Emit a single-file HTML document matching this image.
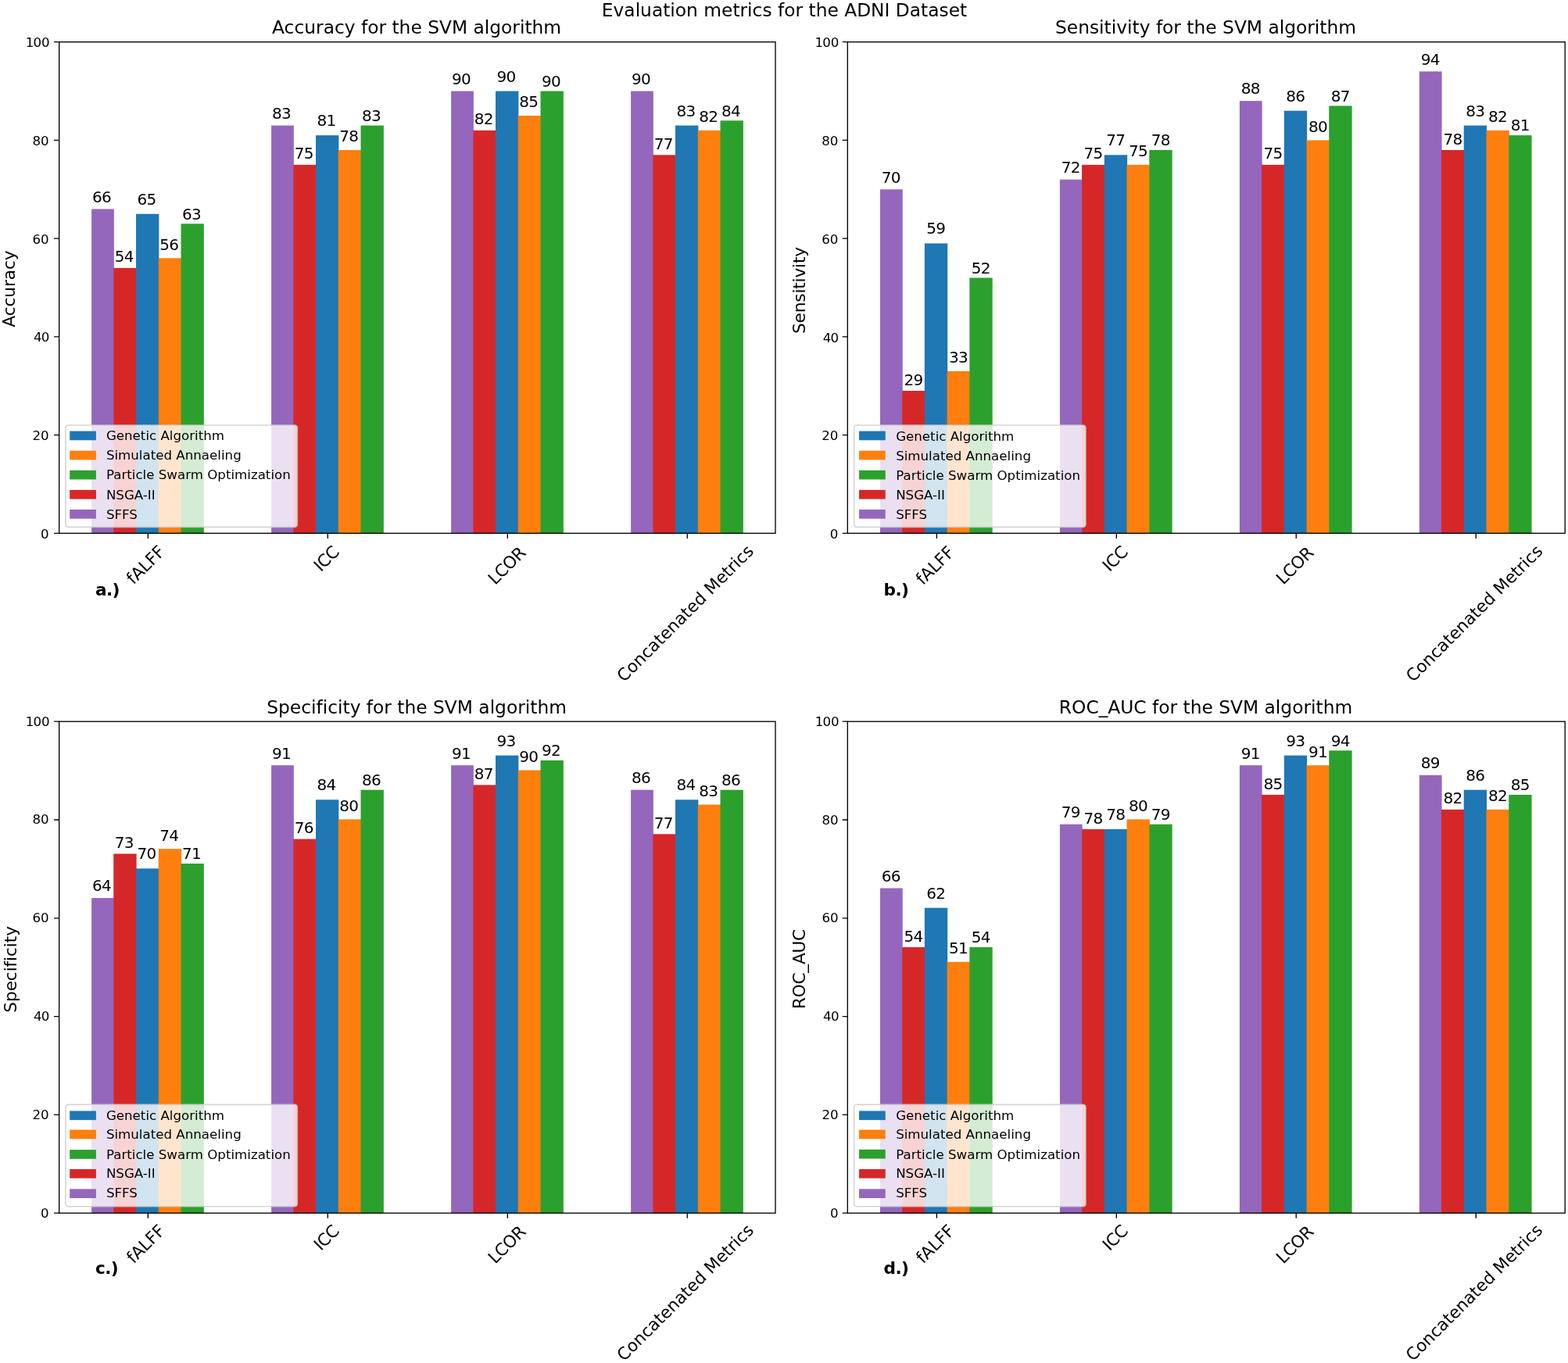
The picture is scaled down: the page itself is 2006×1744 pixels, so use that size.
<!DOCTYPE html>
<html lang="en"><head><meta charset="utf-8"><title>Evaluation metrics for the ADNI Dataset</title>
<style>
html,body{margin:0;padding:0;background:#fff}
body{width:2006px;height:1744px;overflow:hidden}
svg{display:block}
text{font-family:'DejaVu Sans','Liberation Sans',sans-serif;fill:#000;font-variant-ligatures:none}
.tk{font-size:16.67px}
.ti{font-size:23.33px}
.yl{font-size:21.67px}
.xt{font-size:21.67px}
.bl{font-size:20px;letter-spacing:-0.72px}
.lg{font-size:16.67px}
.tg{font-size:21.67px;font-weight:bold;letter-spacing:-0.65px}
</style></head><body>
<svg width="2006" height="1744" viewBox="0 0 2006 1744" role="img" aria-label="Evaluation metrics for the ADNI Dataset">
<rect width="2006" height="1744" fill="#fff"/>
<text class="ti" style="font-size:23.33px" x="1003.5" y="20.7" text-anchor="middle">Evaluation metrics for the ADNI Dataset</text>
<g>
<rect x="117.12" y="267.44" width="28.75" height="414.91" fill="#9467bd"/>
<rect x="145.28" y="342.88" width="29.35" height="339.47" fill="#d62728"/>
<rect x="174.03" y="273.73" width="29.35" height="408.62" fill="#1f77b4"/>
<rect x="202.78" y="330.31" width="29.35" height="352.04" fill="#ff7f0e"/>
<rect x="231.53" y="286.3" width="29.35" height="396.05" fill="#2ca02c"/>
<rect x="347.12" y="160.57" width="28.75" height="521.78" fill="#9467bd"/>
<rect x="375.27" y="210.86" width="29.35" height="471.49" fill="#d62728"/>
<rect x="404.02" y="173.14" width="29.35" height="509.21" fill="#1f77b4"/>
<rect x="432.77" y="192" width="29.35" height="490.35" fill="#ff7f0e"/>
<rect x="461.52" y="160.57" width="29.35" height="521.78" fill="#2ca02c"/>
<rect x="577.12" y="116.57" width="28.75" height="565.78" fill="#9467bd"/>
<rect x="605.27" y="166.86" width="29.35" height="515.49" fill="#d62728"/>
<rect x="634.02" y="116.57" width="29.35" height="565.78" fill="#1f77b4"/>
<rect x="662.77" y="148" width="29.35" height="534.35" fill="#ff7f0e"/>
<rect x="691.52" y="116.57" width="29.35" height="565.78" fill="#2ca02c"/>
<rect x="807.12" y="116.57" width="28.75" height="565.78" fill="#9467bd"/>
<rect x="835.27" y="198.29" width="29.35" height="484.06" fill="#d62728"/>
<rect x="864.02" y="160.57" width="29.35" height="521.78" fill="#1f77b4"/>
<rect x="892.77" y="166.86" width="29.35" height="515.49" fill="#ff7f0e"/>
<rect x="921.52" y="154.28" width="29.35" height="528.07" fill="#2ca02c"/>
<text class="bl" x="130" y="258.64" text-anchor="middle">66</text>
<text class="bl" x="158.75" y="335.43" text-anchor="middle">54</text>
<text class="bl" x="187.5" y="261.68" text-anchor="middle">65</text>
<text class="bl" x="216.25" y="319.71" text-anchor="middle">56</text>
<text class="bl" x="245" y="280.6" text-anchor="middle">63</text>
<text class="bl" x="360" y="151.77" text-anchor="middle">83</text>
<text class="bl" x="388.75" y="203.41" text-anchor="middle">75</text>
<text class="bl" x="417.5" y="161.09" text-anchor="middle">81</text>
<text class="bl" x="446.25" y="181.4" text-anchor="middle">78</text>
<text class="bl" x="475" y="154.87" text-anchor="middle">83</text>
<text class="bl" x="590" y="107.77" text-anchor="middle">90</text>
<text class="bl" x="618.75" y="159.41" text-anchor="middle">82</text>
<text class="bl" x="647.5" y="104.52" text-anchor="middle">90</text>
<text class="bl" x="676.25" y="137.4" text-anchor="middle">85</text>
<text class="bl" x="705" y="110.87" text-anchor="middle">90</text>
<text class="bl" x="820" y="107.77" text-anchor="middle">90</text>
<text class="bl" x="848.75" y="190.84" text-anchor="middle">77</text>
<text class="bl" x="877.5" y="148.52" text-anchor="middle">83</text>
<text class="bl" x="906.25" y="156.26" text-anchor="middle">82</text>
<text class="bl" x="935" y="148.58" text-anchor="middle">84</text>
<rect x="84" y="544" width="296.3" height="130.4" rx="3.33" fill="#fff" fill-opacity="0.8" stroke="#ccc" stroke-opacity="0.8" stroke-width="1.67"/>
<rect x="89.2" y="551.6" width="33.7" height="11.67" fill="#1f77b4"/>
<text class="lg" x="135.9" y="563.26">Genetic Algorithm</text>
<rect x="89.2" y="576.7" width="33.7" height="11.67" fill="#ff7f0e"/>
<text class="lg" x="135.9" y="588.36">Simulated Annaeling</text>
<rect x="89.2" y="601.8" width="33.7" height="11.67" fill="#2ca02c"/>
<text class="lg" x="135.9" y="613.46">Particle Swarm Optimization</text>
<rect x="89.2" y="626.9" width="33.7" height="11.67" fill="#d62728"/>
<text class="lg" x="135.9" y="638.56">NSGA-II</text>
<rect x="89.2" y="652" width="33.7" height="11.67" fill="#9467bd"/>
<text class="lg" x="135.9" y="663.66">SFFS</text>
<rect x="75.65" y="53.7" width="916.35" height="628.65" fill="none" stroke="#000" stroke-width="1.33"/>
<text class="tk" x="62.68" y="688.8" text-anchor="end">0</text>
<text class="tk" x="62.68" y="563.07" text-anchor="end">20</text>
<text class="tk" x="62.68" y="437.34" text-anchor="end" dx="0.8 -0.8">40</text>
<text class="tk" x="62.68" y="311.61" text-anchor="end">60</text>
<text class="tk" x="62.68" y="185.88" text-anchor="end">80</text>
<text class="tk" x="62.68" y="60.15" text-anchor="end" dx="0.95 -0.95">100</text>
<path d="M75.65 682.35h-6.6M75.65 556.62h-6.6M75.65 430.89h-6.6M75.65 305.16h-6.6M75.65 179.43h-6.6M75.65 53.7h-6.6M189.3 682.35v6.6M419.3 682.35v6.6M649.3 682.35v6.6M879.3 682.35v6.6" fill="none" stroke="#000" stroke-width="1.33"/>
<text class="xt" transform="translate(170.87 748.8) rotate(-45)" style="letter-spacing:-0.16px">fALFF</text>
<text class="xt" transform="translate(410.43 732.38) rotate(-45)" style="letter-spacing:-0.7px">ICC</text>
<text class="xt" transform="translate(633.52 749.2) rotate(-45)" style="letter-spacing:-0.63px">LCOR</text>
<text class="xt" transform="translate(798.26 873.73) rotate(-45)" style="letter-spacing:-0.04px">Concatenated Metrics</text>
<text class="ti" x="533.08" y="43.2" text-anchor="middle">Accuracy for the SVM algorithm</text>
<text class="yl" transform="translate(19 369.63) rotate(-90)" text-anchor="middle" style="letter-spacing:-0.1px">Accuracy</text>
<text class="tg" x="122" y="761.95">a.)</text>
</g>
<g>
<rect x="1125.99" y="242.3" width="28.74" height="440.05" fill="#9467bd"/>
<rect x="1154.13" y="500.04" width="29.34" height="182.31" fill="#d62728"/>
<rect x="1182.88" y="311.45" width="29.34" height="370.9" fill="#1f77b4"/>
<rect x="1211.62" y="474.9" width="29.34" height="207.45" fill="#ff7f0e"/>
<rect x="1240.37" y="355.45" width="29.34" height="326.9" fill="#2ca02c"/>
<rect x="1355.94" y="229.72" width="28.74" height="452.63" fill="#9467bd"/>
<rect x="1384.08" y="210.86" width="29.34" height="471.49" fill="#d62728"/>
<rect x="1412.83" y="198.29" width="29.34" height="484.06" fill="#1f77b4"/>
<rect x="1441.57" y="210.86" width="29.34" height="471.49" fill="#ff7f0e"/>
<rect x="1470.32" y="192" width="29.34" height="490.35" fill="#2ca02c"/>
<rect x="1585.89" y="129.14" width="28.74" height="553.21" fill="#9467bd"/>
<rect x="1614.03" y="210.86" width="29.34" height="471.49" fill="#d62728"/>
<rect x="1642.78" y="141.71" width="29.34" height="540.64" fill="#1f77b4"/>
<rect x="1671.52" y="179.43" width="29.34" height="502.92" fill="#ff7f0e"/>
<rect x="1700.27" y="135.42" width="29.34" height="546.93" fill="#2ca02c"/>
<rect x="1815.84" y="91.42" width="28.74" height="590.93" fill="#9467bd"/>
<rect x="1843.98" y="192" width="29.34" height="490.35" fill="#d62728"/>
<rect x="1872.73" y="160.57" width="29.34" height="521.78" fill="#1f77b4"/>
<rect x="1901.47" y="166.86" width="29.34" height="515.49" fill="#ff7f0e"/>
<rect x="1930.22" y="173.14" width="29.34" height="509.21" fill="#2ca02c"/>
<text class="bl" x="1139.86" y="233.5" text-anchor="middle">70</text>
<text class="bl" x="1168.61" y="492.59" text-anchor="middle">29</text>
<text class="bl" x="1197.35" y="299.4" text-anchor="middle">59</text>
<text class="bl" x="1226.09" y="464.3" text-anchor="middle">33</text>
<text class="bl" x="1254.84" y="349.75" text-anchor="middle">52</text>
<text class="bl" x="1369.81" y="220.92" text-anchor="middle">72</text>
<text class="bl" x="1398.56" y="203.41" text-anchor="middle">75</text>
<text class="bl" x="1427.3" y="186.24" text-anchor="middle">77</text>
<text class="bl" x="1456.04" y="200.26" text-anchor="middle">75</text>
<text class="bl" x="1484.79" y="186.3" text-anchor="middle">78</text>
<text class="bl" x="1599.76" y="120.34" text-anchor="middle">88</text>
<text class="bl" x="1628.51" y="203.41" text-anchor="middle">75</text>
<text class="bl" x="1657.25" y="129.66" text-anchor="middle">86</text>
<text class="bl" x="1685.99" y="168.83" text-anchor="middle">80</text>
<text class="bl" x="1714.74" y="129.72" text-anchor="middle">87</text>
<text class="bl" x="1829.71" y="82.62" text-anchor="middle">94</text>
<text class="bl" x="1858.46" y="184.55" text-anchor="middle">78</text>
<text class="bl" x="1887.2" y="148.52" text-anchor="middle">83</text>
<text class="bl" x="1915.94" y="156.26" text-anchor="middle">82</text>
<text class="bl" x="1944.69" y="167.44" text-anchor="middle">81</text>
<rect x="1092.65" y="544" width="296.3" height="130.4" rx="3.33" fill="#fff" fill-opacity="0.8" stroke="#ccc" stroke-opacity="0.8" stroke-width="1.67"/>
<rect x="1099.05" y="551.6" width="33.7" height="11.67" fill="#1f77b4"/>
<text class="lg" x="1146.15" y="563.76">Genetic Algorithm</text>
<rect x="1099.05" y="576.7" width="33.7" height="11.67" fill="#ff7f0e"/>
<text class="lg" x="1146.15" y="588.86">Simulated Annaeling</text>
<rect x="1099.05" y="601.8" width="33.7" height="11.67" fill="#2ca02c"/>
<text class="lg" x="1146.15" y="613.96">Particle Swarm Optimization</text>
<rect x="1099.05" y="626.9" width="33.7" height="11.67" fill="#d62728"/>
<text class="lg" x="1146.15" y="639.06">NSGA-II</text>
<rect x="1099.05" y="652" width="33.7" height="11.67" fill="#9467bd"/>
<text class="lg" x="1146.15" y="664.16">SFFS</text>
<rect x="1084.3" y="53.7" width="917.9" height="628.65" fill="none" stroke="#000" stroke-width="1.33"/>
<text class="tk" x="1072.43" y="689.1" text-anchor="end">0</text>
<text class="tk" x="1072.43" y="563.37" text-anchor="end">20</text>
<text class="tk" x="1072.43" y="437.64" text-anchor="end" dx="0.8 -0.8">40</text>
<text class="tk" x="1072.43" y="311.91" text-anchor="end">60</text>
<text class="tk" x="1072.43" y="186.18" text-anchor="end">80</text>
<text class="tk" x="1072.43" y="60.45" text-anchor="end" dx="0.95 -0.95">100</text>
<path d="M1084.3 682.35h-6.6M1084.3 556.62h-6.6M1084.3 430.89h-6.6M1084.3 305.16h-6.6M1084.3 179.43h-6.6M1084.3 53.7h-6.6M1198.35 682.35v6.6M1428.3 682.35v6.6M1658.25 682.35v6.6M1888.2 682.35v6.6" fill="none" stroke="#000" stroke-width="1.33"/>
<text class="xt" transform="translate(1180.77 749.6) rotate(-45)" style="letter-spacing:-0.16px">fALFF</text>
<text class="xt" transform="translate(1419.43 732.53) rotate(-45)" style="letter-spacing:-0.6px">ICC</text>
<text class="xt" transform="translate(1641.64 749.04) rotate(-45)" style="letter-spacing:-0.7px">LCOR</text>
<text class="xt" transform="translate(1807.76 873.73) rotate(-45)" style="letter-spacing:-0.04px">Concatenated Metrics</text>
<text class="ti" x="1542.5" y="43.2" text-anchor="middle">Sensitivity for the SVM algorithm</text>
<text class="yl" transform="translate(1030 371.53) rotate(-90)" text-anchor="middle" style="letter-spacing:-0.17px">Sensitivity</text>
<text class="tg" x="1130.55" y="761.95">b.)</text>
</g>
<g>
<rect x="117.12" y="1149.04" width="28.75" height="403.16" fill="#9467bd"/>
<rect x="145.28" y="1092.43" width="29.35" height="459.77" fill="#d62728"/>
<rect x="174.03" y="1111.3" width="29.35" height="440.9" fill="#1f77b4"/>
<rect x="202.78" y="1086.14" width="29.35" height="466.06" fill="#ff7f0e"/>
<rect x="231.53" y="1105.01" width="29.35" height="447.19" fill="#2ca02c"/>
<rect x="347.12" y="979.21" width="28.75" height="572.99" fill="#9467bd"/>
<rect x="375.27" y="1073.56" width="29.35" height="478.64" fill="#d62728"/>
<rect x="404.02" y="1023.24" width="29.35" height="528.96" fill="#1f77b4"/>
<rect x="432.77" y="1048.4" width="29.35" height="503.8" fill="#ff7f0e"/>
<rect x="461.52" y="1010.66" width="29.35" height="541.54" fill="#2ca02c"/>
<rect x="577.12" y="979.21" width="28.75" height="572.99" fill="#9467bd"/>
<rect x="605.27" y="1004.37" width="29.35" height="547.83" fill="#d62728"/>
<rect x="634.02" y="966.63" width="29.35" height="585.57" fill="#1f77b4"/>
<rect x="662.77" y="985.5" width="29.35" height="566.7" fill="#ff7f0e"/>
<rect x="691.52" y="972.92" width="29.35" height="579.28" fill="#2ca02c"/>
<rect x="807.12" y="1010.66" width="28.75" height="541.54" fill="#9467bd"/>
<rect x="835.27" y="1067.27" width="29.35" height="484.93" fill="#d62728"/>
<rect x="864.02" y="1023.24" width="29.35" height="528.96" fill="#1f77b4"/>
<rect x="892.77" y="1029.53" width="29.35" height="522.67" fill="#ff7f0e"/>
<rect x="921.52" y="1010.66" width="29.35" height="541.54" fill="#2ca02c"/>
<text class="bl" x="130" y="1140.34" text-anchor="middle">64</text>
<text class="bl" x="158.75" y="1085.08" text-anchor="middle">73</text>
<text class="bl" x="187.5" y="1099.35" text-anchor="middle">70</text>
<text class="bl" x="216.25" y="1075.64" text-anchor="middle">74</text>
<text class="bl" x="245" y="1099.41" text-anchor="middle">71</text>
<text class="bl" x="360" y="970.51" text-anchor="middle">91</text>
<text class="bl" x="388.75" y="1066.21" text-anchor="middle">76</text>
<text class="bl" x="417.5" y="1011.29" text-anchor="middle">84</text>
<text class="bl" x="446.25" y="1037.9" text-anchor="middle">80</text>
<text class="bl" x="475" y="1005.06" text-anchor="middle">86</text>
<text class="bl" x="590" y="970.51" text-anchor="middle">91</text>
<text class="bl" x="618.75" y="997.02" text-anchor="middle">87</text>
<text class="bl" x="647.5" y="954.68" text-anchor="middle">93</text>
<text class="bl" x="676.25" y="975" text-anchor="middle">90</text>
<text class="bl" x="705" y="967.32" text-anchor="middle">92</text>
<text class="bl" x="820" y="1001.96" text-anchor="middle">86</text>
<text class="bl" x="848.75" y="1059.92" text-anchor="middle">77</text>
<text class="bl" x="877.5" y="1011.29" text-anchor="middle">84</text>
<text class="bl" x="906.25" y="1019.03" text-anchor="middle">83</text>
<text class="bl" x="935" y="1005.06" text-anchor="middle">86</text>
<rect x="84" y="1413.35" width="296.3" height="130.4" rx="3.33" fill="#fff" fill-opacity="0.8" stroke="#ccc" stroke-opacity="0.8" stroke-width="1.67"/>
<rect x="89.2" y="1421.45" width="33.7" height="11.67" fill="#1f77b4"/>
<text class="lg" x="135.9" y="1432.81">Genetic Algorithm</text>
<rect x="89.2" y="1445.6" width="33.7" height="11.67" fill="#ff7f0e"/>
<text class="lg" x="135.9" y="1456.91">Simulated Annaeling</text>
<rect x="89.2" y="1471.15" width="33.7" height="11.67" fill="#2ca02c"/>
<text class="lg" x="135.9" y="1482.51">Particle Swarm Optimization</text>
<rect x="89.2" y="1495.95" width="33.7" height="11.67" fill="#d62728"/>
<text class="lg" x="135.9" y="1507.41">NSGA-II</text>
<rect x="89.2" y="1521.35" width="33.7" height="11.67" fill="#9467bd"/>
<text class="lg" x="135.9" y="1532.41">SFFS</text>
<rect x="75.65" y="923.2" width="916.35" height="629" fill="none" stroke="#000" stroke-width="1.33"/>
<text class="tk" x="62.68" y="1557.6" text-anchor="end">0</text>
<text class="tk" x="62.68" y="1431.8" text-anchor="end">20</text>
<text class="tk" x="62.68" y="1306" text-anchor="end" dx="0.8 -0.8">40</text>
<text class="tk" x="62.68" y="1180.2" text-anchor="end">60</text>
<text class="tk" x="62.68" y="1054.4" text-anchor="end">80</text>
<text class="tk" x="62.68" y="928.6" text-anchor="end" dx="0.95 -0.95">100</text>
<path d="M75.65 1552.2h-6.6M75.65 1426.4h-6.6M75.65 1300.6h-6.6M75.65 1174.8h-6.6M75.65 1049h-6.6M75.65 923.2h-6.6M189.3 1552.2v6.6M419.3 1552.2v6.6M649.3 1552.2v6.6M879.3 1552.2v6.6" fill="none" stroke="#000" stroke-width="1.33"/>
<text class="xt" transform="translate(170.97 1617.65) rotate(-45)" style="letter-spacing:-0.16px">fALFF</text>
<text class="xt" transform="translate(410.43 1601.23) rotate(-45)" style="letter-spacing:-0.7px">ICC</text>
<text class="xt" transform="translate(633.52 1618.05) rotate(-45)" style="letter-spacing:-0.63px">LCOR</text>
<text class="xt" transform="translate(798.26 1742.78) rotate(-45)" style="letter-spacing:-0.04px">Concatenated Metrics</text>
<text class="ti" x="533.08" y="912.7" text-anchor="middle">Specificity for the SVM algorithm</text>
<text class="yl" transform="translate(20.5 1240.4) rotate(-90)" text-anchor="middle" style="letter-spacing:-0.1px">Specificity</text>
<text class="tg" x="122" y="1630.1">c.)</text>
</g>
<g>
<rect x="1125.99" y="1136.46" width="28.74" height="415.74" fill="#9467bd"/>
<rect x="1154.13" y="1211.94" width="29.34" height="340.26" fill="#d62728"/>
<rect x="1182.88" y="1161.62" width="29.34" height="390.58" fill="#1f77b4"/>
<rect x="1211.62" y="1230.81" width="29.34" height="321.39" fill="#ff7f0e"/>
<rect x="1240.37" y="1211.94" width="29.34" height="340.26" fill="#2ca02c"/>
<rect x="1355.94" y="1054.69" width="28.74" height="497.51" fill="#9467bd"/>
<rect x="1384.08" y="1060.98" width="29.34" height="491.22" fill="#d62728"/>
<rect x="1412.83" y="1060.98" width="29.34" height="491.22" fill="#1f77b4"/>
<rect x="1441.57" y="1048.4" width="29.34" height="503.8" fill="#ff7f0e"/>
<rect x="1470.32" y="1054.69" width="29.34" height="497.51" fill="#2ca02c"/>
<rect x="1585.89" y="979.21" width="28.74" height="572.99" fill="#9467bd"/>
<rect x="1614.03" y="1016.95" width="29.34" height="535.25" fill="#d62728"/>
<rect x="1642.78" y="966.63" width="29.34" height="585.57" fill="#1f77b4"/>
<rect x="1671.52" y="979.21" width="29.34" height="572.99" fill="#ff7f0e"/>
<rect x="1700.27" y="960.34" width="29.34" height="591.86" fill="#2ca02c"/>
<rect x="1815.84" y="991.79" width="28.74" height="560.41" fill="#9467bd"/>
<rect x="1843.98" y="1035.82" width="29.34" height="516.38" fill="#d62728"/>
<rect x="1872.73" y="1010.66" width="29.34" height="541.54" fill="#1f77b4"/>
<rect x="1901.47" y="1035.82" width="29.34" height="516.38" fill="#ff7f0e"/>
<rect x="1930.22" y="1016.95" width="29.34" height="535.25" fill="#2ca02c"/>
<text class="bl" x="1139.86" y="1127.76" text-anchor="middle">66</text>
<text class="bl" x="1168.61" y="1204.59" text-anchor="middle">54</text>
<text class="bl" x="1197.35" y="1149.67" text-anchor="middle">62</text>
<text class="bl" x="1226.09" y="1220.31" text-anchor="middle">51</text>
<text class="bl" x="1254.84" y="1206.34" text-anchor="middle">54</text>
<text class="bl" x="1369.81" y="1045.99" text-anchor="middle">79</text>
<text class="bl" x="1398.56" y="1053.63" text-anchor="middle">78</text>
<text class="bl" x="1427.3" y="1049.03" text-anchor="middle">78</text>
<text class="bl" x="1456.04" y="1037.9" text-anchor="middle">80</text>
<text class="bl" x="1484.79" y="1049.09" text-anchor="middle">79</text>
<text class="bl" x="1599.76" y="970.51" text-anchor="middle">91</text>
<text class="bl" x="1628.51" y="1009.6" text-anchor="middle">85</text>
<text class="bl" x="1657.25" y="954.68" text-anchor="middle">93</text>
<text class="bl" x="1685.99" y="968.71" text-anchor="middle">91</text>
<text class="bl" x="1714.74" y="954.74" text-anchor="middle">94</text>
<text class="bl" x="1829.71" y="983.09" text-anchor="middle">89</text>
<text class="bl" x="1858.46" y="1028.47" text-anchor="middle">82</text>
<text class="bl" x="1887.2" y="998.71" text-anchor="middle">86</text>
<text class="bl" x="1915.94" y="1025.32" text-anchor="middle">82</text>
<text class="bl" x="1944.69" y="1011.35" text-anchor="middle">85</text>
<rect x="1092.65" y="1413.35" width="296.3" height="130.4" rx="3.33" fill="#fff" fill-opacity="0.8" stroke="#ccc" stroke-opacity="0.8" stroke-width="1.67"/>
<rect x="1099.05" y="1421.45" width="33.7" height="11.67" fill="#1f77b4"/>
<text class="lg" x="1146.15" y="1432.81">Genetic Algorithm</text>
<rect x="1099.05" y="1445.6" width="33.7" height="11.67" fill="#ff7f0e"/>
<text class="lg" x="1146.15" y="1456.91">Simulated Annaeling</text>
<rect x="1099.05" y="1470.85" width="33.7" height="11.67" fill="#2ca02c"/>
<text class="lg" x="1146.15" y="1482.51">Particle Swarm Optimization</text>
<rect x="1099.05" y="1495.95" width="33.7" height="11.67" fill="#d62728"/>
<text class="lg" x="1146.15" y="1507.41">NSGA-II</text>
<rect x="1099.05" y="1521.35" width="33.7" height="11.67" fill="#9467bd"/>
<text class="lg" x="1146.15" y="1532.41">SFFS</text>
<rect x="1084.3" y="923.2" width="917.9" height="629" fill="none" stroke="#000" stroke-width="1.33"/>
<text class="tk" x="1072.73" y="1557.75" text-anchor="end">0</text>
<text class="tk" x="1072.73" y="1431.95" text-anchor="end">20</text>
<text class="tk" x="1072.73" y="1306.15" text-anchor="end" dx="0.8 -0.8">40</text>
<text class="tk" x="1072.73" y="1180.35" text-anchor="end">60</text>
<text class="tk" x="1072.73" y="1054.55" text-anchor="end">80</text>
<text class="tk" x="1072.73" y="928.75" text-anchor="end" dx="0.95 -0.95">100</text>
<path d="M1084.3 1552.2h-6.6M1084.3 1426.4h-6.6M1084.3 1300.6h-6.6M1084.3 1174.8h-6.6M1084.3 1049h-6.6M1084.3 923.2h-6.6M1198.35 1552.2v6.6M1428.3 1552.2v6.6M1658.25 1552.2v6.6M1888.2 1552.2v6.6" fill="none" stroke="#000" stroke-width="1.33"/>
<text class="xt" transform="translate(1181.02 1617.75) rotate(-45)" style="letter-spacing:-0.16px">fALFF</text>
<text class="xt" transform="translate(1419.43 1601.38) rotate(-45)" style="letter-spacing:-0.6px">ICC</text>
<text class="xt" transform="translate(1641.64 1617.89) rotate(-45)" style="letter-spacing:-0.7px">LCOR</text>
<text class="xt" transform="translate(1807.51 1742.78) rotate(-45)" style="letter-spacing:-0.04px">Concatenated Metrics</text>
<text class="ti" x="1542.5" y="912.7" text-anchor="middle">ROC_AUC for the SVM algorithm</text>
<text class="yl" transform="translate(1030 1240.1) rotate(-90)" text-anchor="middle" style="letter-spacing:-0.29px">ROC_AUC</text>
<text class="tg" x="1130.55" y="1629.9">d.)</text>
</g>
</svg></body></html>
